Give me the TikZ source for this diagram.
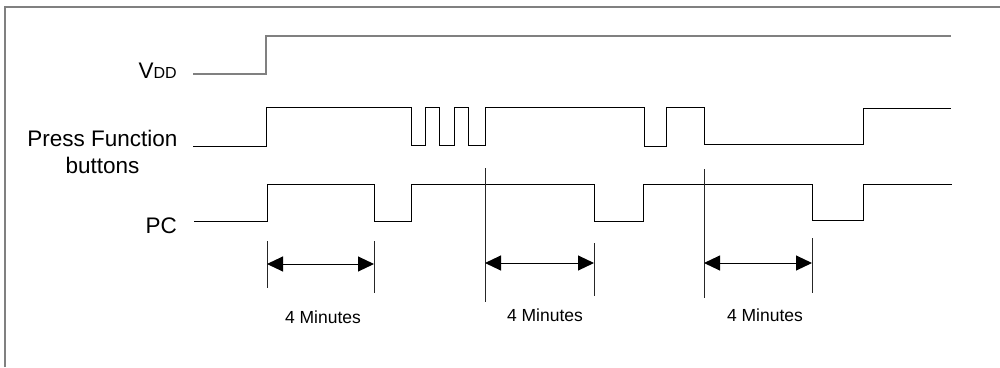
\documentclass[tikz,border=0pt]{standalone}
\usepackage{fontspec}
\setmainfont{Liberation Sans}
\usetikzlibrary{arrows.meta}
\begin{document}
\begin{tikzpicture}[x=1pt,y=-1pt,
  trace/.style={black,line width=1pt},
  vddtrace/.style={gray,line width=1.3pt},
  frame/.style={gray,line width=1.3pt},
  marker/.style={black!85,line width=1pt},
  dimarrow/.style={black,line width=1pt,{Triangle[length=16pt,width=15pt]}-{Triangle[length=16pt,width=15pt]}},
  siglabel/.style={font=\fontsize{22.5}{27}\selectfont,inner sep=0pt},
  timelabel/.style={font=\fontsize{17.5}{20}\selectfont,inner sep=0pt}]
\useasboundingbox (0,0) rectangle (1000,367);
% frame
\draw[frame] (5,367) -- (5,7) -- (1000,7);
% labels
\node[siglabel,anchor=base east] (lvdd) at (177,78) {V{\fontsize{16}{18}\selectfont DD}};
\node[siglabel,anchor=base,align=center] (lpf) at (102.5,173) {Press Function\\buttons};
\node[siglabel,anchor=base east] (lpc) at (177,233) {PC};
% VDD
\draw[vddtrace] (193,74) -- (266,74) -- (266,36) -- (951,36);
% Press function
\draw[trace] (193,146) -- (266,146) -- (266,107) -- (411,107) -- (411,145)
  -- (425,145) -- (425,107) -- (439,107) -- (439,145) -- (454,145) -- (454,107)
  -- (468,107) -- (468,145) -- (485,145) -- (485,107) -- (644,107) -- (644,146)
  -- (666,146) -- (666,107) -- (704,107) -- (704,144) -- (863,144) -- (863,108) -- (951,108);
% PC
\draw[trace] (194,221) -- (267,221) -- (267,184) -- (374,184) -- (374,221)
  -- (411,221) -- (411,184) -- (594,184) -- (594,221) -- (643,221) -- (643,184)
  -- (812,184) -- (812,220) -- (863,220) -- (863,184) -- (952,184);
% markers
\coordinate (m1t) at (267,241); \coordinate (m1b) at (267,288);
\coordinate (m2t) at (374,241); \coordinate (m2b) at (374,293);
\coordinate (m3t) at (485,168); \coordinate (m3b) at (485,302);
\coordinate (m4t) at (594,243); \coordinate (m4b) at (594,296);
\coordinate (m5t) at (704,169); \coordinate (m5b) at (704,298);
\coordinate (m6t) at (812,238); \coordinate (m6b) at (812,293);
\foreach \m in {1,...,6} \draw[marker] (m\m t) -- (m\m b);
% dimension arrows
\coordinate (a1l) at (267,264); \coordinate (a1r) at (374,264);
\coordinate (a2l) at (485,263); \coordinate (a2r) at (594,263);
\coordinate (a3l) at (704,263); \coordinate (a3r) at (812,263);
\draw[dimarrow] (a1l) -- (a1r);
\draw[dimarrow] (a2l) -- (a2r);
\draw[dimarrow] (a3l) -- (a3r);
% time labels
\node[timelabel,anchor=base] (t1) at (323,323) {4 Minutes};
\node[timelabel,anchor=base] (t2) at (545,321) {4 Minutes};
\node[timelabel,anchor=base] (t3) at (765,321) {4 Minutes};
\end{tikzpicture}
\end{document}
